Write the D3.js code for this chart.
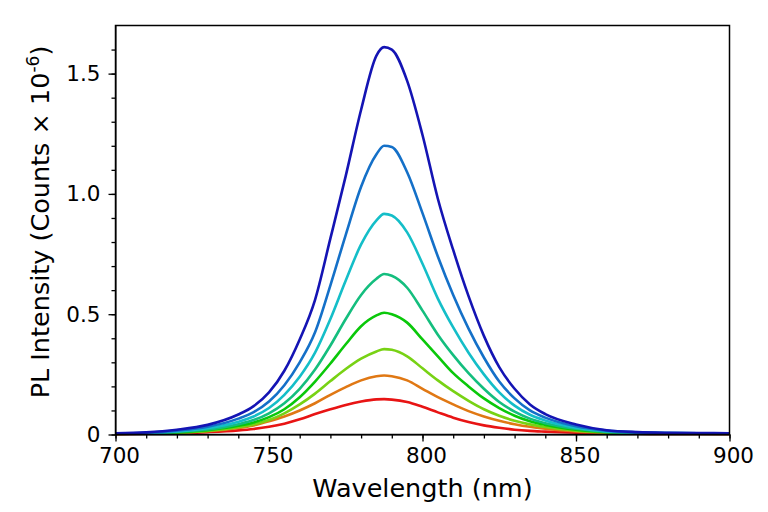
<!DOCTYPE html>
<html>
<head>
<meta charset="utf-8">
<script src="https://cdn.jsdelivr.net/npm/d3@7"></script>
<style>
  body { margin: 0; background: #fff; }
  text { font-family: "DejaVu Sans", Verdana, sans-serif; fill: #000; }
</style>
</head>
<body>
<div id="chart"></div>
<script>
(function() {
  // wavelength grid (nm)
  var wavelengths = [700, 710, 720, 730, 740, 745, 750, 755, 760, 765, 770, 775, 780, 785, 787.5,
                     790, 795, 800, 805, 810, 815, 820, 825, 830, 835, 840, 850, 860, 870, 880, 890, 900];

  // PL intensity, counts x 1e-6, highest to lowest
  var series1 = [0.005, 0.009, 0.020, 0.040, 0.083, 0.118, 0.175, 0.265, 0.395, 0.56, 0.815, 1.075, 1.35, 1.575, 1.61,
                 1.60, 1.47, 1.245, 0.98, 0.767, 0.575, 0.41, 0.28, 0.19, 0.125, 0.085, 0.042, 0.018, 0.010, 0.007, 0.006, 0.005];
  var series2 = [0.004, 0.007, 0.016, 0.032, 0.066, 0.093, 0.137, 0.205, 0.30, 0.425, 0.62, 0.83, 1.03, 1.165, 1.20,
                 1.195, 1.09, 0.92, 0.74, 0.58, 0.44, 0.32, 0.22, 0.15, 0.10, 0.07, 0.034, 0.016, 0.009, 0.006, 0.005, 0.005];
  var series3 = [0.004, 0.006, 0.013, 0.026, 0.053, 0.075, 0.11, 0.165, 0.24, 0.34, 0.48, 0.64, 0.79, 0.89, 0.917,
                 0.91, 0.84, 0.71, 0.565, 0.445, 0.34, 0.25, 0.175, 0.12, 0.082, 0.058, 0.028, 0.013, 0.008, 0.006, 0.005, 0.005];
  var series4 = [0.003, 0.005, 0.011, 0.021, 0.043, 0.06, 0.088, 0.13, 0.19, 0.27, 0.37, 0.48, 0.58, 0.647, 0.667,
                 0.66, 0.61, 0.515, 0.415, 0.33, 0.255, 0.19, 0.135, 0.095, 0.066, 0.047, 0.024, 0.011, 0.007, 0.005, 0.004, 0.004];
  var series5 = [0.003, 0.005, 0.009, 0.018, 0.036, 0.05, 0.072, 0.105, 0.155, 0.22, 0.295, 0.375, 0.45, 0.495, 0.506,
                 0.50, 0.465, 0.395, 0.325, 0.255, 0.20, 0.15, 0.11, 0.078, 0.055, 0.04, 0.02, 0.01, 0.006, 0.004, 0.004, 0.003];
  var series6 = [0.002, 0.004, 0.008, 0.015, 0.03, 0.042, 0.06, 0.088, 0.125, 0.17, 0.222, 0.272, 0.315, 0.345, 0.355,
                 0.352, 0.325, 0.275, 0.225, 0.18, 0.14, 0.105, 0.078, 0.057, 0.042, 0.031, 0.016, 0.008, 0.005, 0.004, 0.003, 0.003];
  var series7 = [0.002, 0.004, 0.008, 0.014, 0.027, 0.038, 0.055, 0.075, 0.10, 0.13, 0.165, 0.197, 0.225, 0.242, 0.245,
                 0.242, 0.225, 0.19, 0.155, 0.125, 0.097, 0.075, 0.057, 0.043, 0.032, 0.024, 0.013, 0.007, 0.004, 0.003, 0.003, 0.002];
  var series8 = [0.001, 0.003, 0.006, 0.010, 0.017, 0.023, 0.032, 0.045, 0.063, 0.085, 0.105, 0.123, 0.137, 0.146, 0.147,
                 0.145, 0.135, 0.115, 0.092, 0.07, 0.052, 0.038, 0.028, 0.02, 0.015, 0.012, 0.007, 0.004, 0.003, 0.002, 0.002, 0.002];

  var colours = ['#1414b4', '#1470c8', '#14bec8', '#14be7e', '#0ac80a', '#78d214', '#e07814', '#e81414'];

  var xMajor = [700, 750, 800, 850, 900];
  var yMajor = [0, 0.5, 1.0, 1.5];
  var yLabels = ['0', '0.5', '1.0', '1.5'];

  var allSeries = [series1, series2, series3, series4, series5, series6, series7, series8];

  var width = 768, height = 512;
  var margin = { left: 115.5, right: 38.5, top: 25.5, bottom: 77.5 };

  var svg = d3.select('#chart')
            .append('svg')
            .attr('width', width)
            .attr('height', height);

  var x = d3.scaleLinear().domain([700, 900]).range([margin.left, width - margin.right]);
  var y = d3.scaleLinear().domain([0, 1.7]).range([height - margin.bottom, margin.top]);

  // curves, lowest first so the top one sits over the tails
  var line = d3.line()
    .x(function(d) { return x(d[0]); })
    .y(function(d) { return y(d[1]); })
    .curve(d3.curveMonotoneX);

  for (var i = allSeries.length - 1; i >= 0; i--) {
    var pts = wavelengths.map(function(w, j) { return [w, allSeries[i][j]]; });
    svg.append('path')
      .attr('d', line(pts))
      .attr('fill', 'none')
      .attr('stroke', colours[i])
      .attr('stroke-width', 2.6)
      .attr('stroke-linejoin', 'round');
  }

  // minor ticks
  svg.append('g')
    .attr('transform', 'translate(0,' + y(0) + ')')
    .call(d3.axisBottom(x).tickValues(d3.range(700, 901, 10)).tickSize(4).tickFormat(''))
    .call(function(g) { g.select('.domain').remove(); });
  svg.append('g')
    .attr('transform', 'translate(' + x(700) + ',0)')
    .call(d3.axisLeft(y).tickValues(d3.range(0, 17).map(function(k) { return k / 10; })).tickSize(4).tickFormat(''))
    .call(function(g) { g.select('.domain').remove(); });

  // major ticks and labels
  var xAxis = svg.append('g')
    .attr('transform', 'translate(0,' + y(0) + ')')
    .call(d3.axisBottom(x).tickValues(xMajor).tickSize(7).tickSizeOuter(0).tickPadding(6));
  xAxis.selectAll('text')
    .attr('font-size', '21.5px')
    .attr('dx', 3.5)
    .attr('font-family', '"DejaVu Sans", Verdana, sans-serif');

  var yAxis = svg.append('g')
    .attr('transform', 'translate(' + x(700) + ',0)')
    .call(d3.axisLeft(y).tickValues(yMajor).tickSize(7).tickSizeOuter(0).tickPadding(8)
      .tickFormat(function(d, k) { return yLabels[k]; }));
  yAxis.selectAll('text')
    .attr('font-size', '21.5px')
    .attr('font-family', '"DejaVu Sans", Verdana, sans-serif');

  svg.selectAll('.tick line').attr('stroke', '#000').attr('stroke-width', 1.3);

  // frame
  svg.append('rect')
    .attr('x', x(700))
    .attr('y', y(1.7))
    .attr('width', x(900) - x(700))
    .attr('height', y(0) - y(1.7))
    .attr('fill', 'none')
    .attr('stroke', '#000')
    .attr('stroke-width', 1.5);

  // axis titles
  svg.append('text')
    .attr('x', (x(700) + x(900)) / 2)
    .attr('y', 497)
    .attr('text-anchor', 'middle')
    .attr('font-size', '25.5px')
    .text('Wavelength (nm)');

  var yTitle = svg.append('text')
    .attr('transform', 'translate(49,222) rotate(-90)')
    .attr('text-anchor', 'middle')
    .attr('font-size', '25.5px');
  yTitle.append('tspan').text('PL Intensity (Counts \u00d7 10');
  yTitle.append('tspan').attr('dy', -10).attr('font-size', '17px').text('-6');
  yTitle.append('tspan').attr('dy', 10).text(')');
}());
</script>
</body>
</html>
